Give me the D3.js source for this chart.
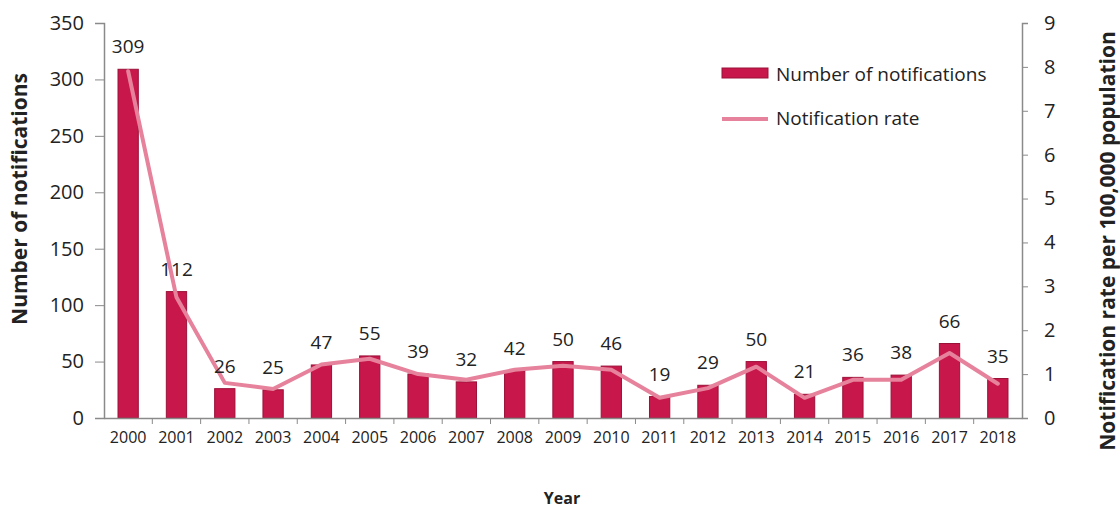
<!DOCTYPE html>
<html>
<head>
<meta charset="utf-8">
<script src="https://cdn.jsdelivr.net/npm/d3@7"></script>
<style>
  body { margin: 0; background: #fff; }
  svg { font-family: "Open Sans", sans-serif; }
</style>
</head>
<body>
<svg width="1120" height="508"></svg>
<script>
// data
var years = ["2000","2001","2002","2003","2004","2005","2006","2007","2008","2009",
             "2010","2011","2012","2013","2014","2015","2016","2017","2018"];
var notifications = [309,112,26,25,47,55,39,32,42,50,46,19,29,50,21,36,38,66,35];
var rates = [7.9,2.75,0.8,0.66,1.22,1.35,1.0,0.87,1.1,1.19,1.1,0.46,0.68,1.17,0.46,0.87,0.87,1.48,0.78];
var leftTicks = [0,50,100,150,200,250,300,350];
var rightTicks = [0,1,2,3,4,5,6,7,8,9];

var svg = d3.select("svg");

// plot edges (note: "top" is taken by window.top)
var plotLeft = 104, plotRight = 1022, plotTop = 23, plotBottom = 418;
var barColor = "#c8174a", barStroke = "#9b1239", lineColor = "#e6829b", axisColor = "#8a8a8a";

var x = d3.scaleBand()
    .domain(years)
    .range([plotLeft, plotRight])
    .paddingInner(0.58)
    .paddingOuter(0.29);

var yL = d3.scaleLinear().domain([0, 350]).range([plotBottom, plotTop]);
var yR = d3.scaleLinear().domain([0, 9]).range([plotBottom, plotTop]);

// bars
svg.append("g").selectAll("rect")
    .data(notifications)
  .enter().append("rect")
    .attr("x", function(d, i) { return x(years[i]); })
    .attr("y", function(d) { return yL(d); })
    .attr("width", x.bandwidth())
    .attr("height", function(d) { return plotBottom - yL(d); })
    .attr("fill", barColor)
    .attr("stroke", barStroke)
    .attr("stroke-width", 1);

// rate line
var line = d3.line()
    .x(function(d, i) { return x(years[i]) + x.bandwidth() / 2; })
    .y(function(d) { return yR(d); });

svg.append("path")
    .datum(rates)
    .attr("d", line)
    .attr("fill", "none")
    .attr("stroke", lineColor)
    .attr("stroke-width", 4)
    .attr("stroke-linejoin", "round")
    .attr("stroke-linecap", "round");

// value labels
svg.append("g").selectAll("text")
    .data(notifications)
  .enter().append("text")
    .attr("x", function(d, i) { return x(years[i]) + x.bandwidth() / 2; })
    .attr("y", function(d) { return yL(d) - 16; })
    .attr("text-anchor", "middle")
    .attr("font-size", 19)
    .attr("fill", "#222")
    .text(function(d) { return d; });

// axes
var axL = svg.append("g")
    .attr("transform", "translate(" + plotLeft + ",0)")
    .call(d3.axisLeft(yL).tickValues(leftTicks).tickSize(9).tickPadding(11));

var axR = svg.append("g")
    .attr("transform", "translate(" + plotRight + ",0)")
    .call(d3.axisRight(yR).tickValues(rightTicks).tickSize(6).tickPadding(16));

var axX = svg.append("g")
    .attr("transform", "translate(0," + plotBottom + ")")
    .call(d3.axisBottom(x).tickSize(0).tickPadding(14));

// x ticks sit between the bars
svg.append("g").selectAll("line")
    .data(years.slice(1))
  .enter().append("line")
    .attr("x1", function(d) { return x(d) - x.step() * x.paddingInner() / 2; })
    .attr("x2", function(d) { return x(d) - x.step() * x.paddingInner() / 2; })
    .attr("y1", plotBottom)
    .attr("y2", plotBottom + 6)
    .attr("stroke", axisColor);

[axL, axR, axX].forEach(function(a) {
  a.selectAll("path.domain").attr("stroke", axisColor).attr("stroke-width", 1.5);
  a.selectAll(".tick line").attr("stroke", axisColor);
  a.selectAll("text").attr("fill", "#222").attr("font-family", "Open Sans");
});
axL.selectAll("text").attr("font-size", 20);
axR.selectAll("text").attr("font-size", 20);
axX.selectAll("text").attr("font-size", 16);

// axis titles
svg.append("text")
    .attr("transform", "translate(27,199) rotate(-90)")
    .attr("text-anchor", "middle")
    .attr("font-size", 21)
    .attr("font-weight", "bold")
    .attr("fill", "#222")
    .text("Number of notifications");

svg.append("text")
    .attr("transform", "translate(1115,241) rotate(-90)")
    .attr("text-anchor", "middle")
    .attr("font-size", 21)
    .attr("font-weight", "bold")
    .attr("fill", "#222")
    .text("Notification rate per 100,000 population");

svg.append("text")
    .attr("x", 562)
    .attr("y", 504)
    .attr("text-anchor", "middle")
    .attr("font-size", 16)
    .attr("font-weight", "bold")
    .attr("fill", "#222")
    .text("Year");

// legend
var legend = svg.append("g");
legend.append("rect")
    .attr("x", 722).attr("y", 68).attr("width", 46).attr("height", 10)
    .attr("fill", barColor).attr("stroke", barStroke);
legend.append("text")
    .attr("x", 776).attr("y", 81)
    .attr("font-size", 19).attr("fill", "#222")
    .text("Number of notifications");
legend.append("line")
    .attr("x1", 722).attr("x2", 768).attr("y1", 119).attr("y2", 119)
    .attr("stroke", lineColor).attr("stroke-width", 4);
legend.append("text")
    .attr("x", 776).attr("y", 125)
    .attr("font-size", 19).attr("fill", "#222")
    .text("Notification rate");
</script>
</body>
</html>
